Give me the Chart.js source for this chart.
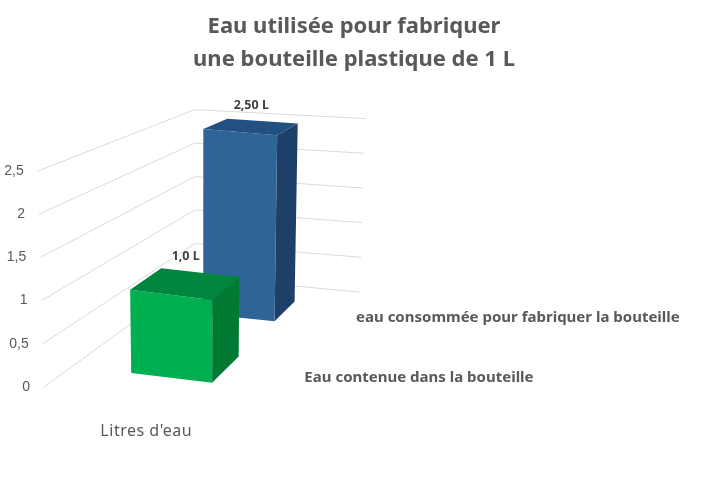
<!DOCTYPE html>
<html lang="fr">
<head>
<meta charset="utf-8">
<title>Eau utilisée</title>
<script src="https://cdn.jsdelivr.net/npm/chart.js@4"></script>
<style>
  html, body { margin: 0; padding: 0; background: #fff; }
  canvas { display: block; }
</style>
</head>
<body>
<canvas id="my-chart" width="715" height="478"></canvas>
<script>
'use strict'
///data///
const titleLines = ['Eau utilisée pour fabriquer', 'une bouteille plastique de 1 L'];
const categoryName = "Litres d'eau";
const seriesNames = ['Eau contenue dans la bouteille', 'eau consommée pour fabriquer la bouteille'];
const litres = [1.0, 2.5];
const valueLabels = ['1,0 L', '2,50 L'];
const tickLabels = ['0', '0,5', '1', '1,5', '2', '2,5'];

///colours, front / top / side face of each bar///
const frontColors = ['#00b050', '#2f6497'];
const topColors = ['#00863d', '#225080'];
const sideColors = ['#007a33', '#1e4068'];
const gridColor = '#d9d9d9';
const textColor = '#595959';

///the "3D room": floor corners on screen (left-front, right-front, right-back, left-back)///
const floorA = [44, 387], floorD = [255, 414], floorC = [360, 292], floorB = [195, 277];
const shrinkA = 1, shrinkD = 0.98, shrinkC = 0.803, shrinkB = 0.775;//height per value at each corner
const leanPerPx = 0.000185;//verticals spread out a little going up
const barLeft = 0.3, barRight = 0.7;//bar width across the floor

//floor square (u,w) to screen, plain perspective mapping from the 4 corners
function makeFloor() {
  const dx1 = floorD[0] - floorC[0], dx2 = floorB[0] - floorC[0], sx = floorA[0] - floorD[0] + floorC[0] - floorB[0];
  const dy1 = floorD[1] - floorC[1], dy2 = floorB[1] - floorC[1], sy = floorA[1] - floorD[1] + floorC[1] - floorB[1];
  const den = dx1 * dy2 - dx2 * dy1;
  const g = (sx * dy2 - dx2 * sy) / den;
  const h = (dx1 * sy - sx * dy1) / den;
  return function (u, w) {
    const z = g * u + h * w + 1;
    return [
      ((floorD[0] - floorA[0] + g * floorD[0]) * u + (floorB[0] - floorA[0] + h * floorB[0]) * w + floorA[0]) / z,
      ((floorD[1] - floorA[1] + g * floorD[1]) * u + (floorB[1] - floorA[1] + h * floorB[1]) * w + floorA[1]) / z
    ];
  };
}
const floorPoint = makeFloor();

//rise = pixels the y scale gives for a value, at the front left edge
function project(u, w, rise) {
  const p = floorPoint(u, w);
  const shrink = (1 - w) * ((1 - u) * shrinkA + u * shrinkD) + w * ((1 - u) * shrinkB + u * shrinkC);
  const h = rise * shrink;
  return [p[0] + leanPerPx * (p[0] - 200) * h, p[1] - h];
}

function face(ctx, color, pts) {
  ctx.fillStyle = color;
  ctx.beginPath();
  pts.forEach((p, i) => i ? ctx.lineTo(p[0], p[1]) : ctx.moveTo(p[0], p[1]));
  ctx.closePath();
  ctx.fill();
}

function drawGrid(chart) {
  const ctx = chart.ctx, y = chart.scales.y;
  const base = y.getPixelForValue(0);
  ctx.save();
  ctx.strokeStyle = gridColor;
  ctx.lineWidth = 1;
  ctx.font = '14px "Liberation Sans"';
  ctx.fillStyle = textColor;
  ctx.textAlign = 'right';
  ctx.textBaseline = 'middle';
  y.ticks.forEach((tick, i) => {
    const rise = base - y.getPixelForValue(tick.value);
    const a = project(0, 0, rise), b = project(0, 1, rise), c = project(1, 1, rise);
    ctx.beginPath();
    ctx.moveTo(a[0], a[1]);
    ctx.lineTo(b[0], b[1]);
    ctx.lineTo(c[0], c[1]);
    ctx.stroke();
    ctx.fillText(tickLabels[i], a[0] - 14, a[1]);
  });
  ctx.restore();
}

//one bar element from chart.js becomes a box: its x/width give the depth on the floor
function drawBar(chart, bar, i) {
  const ctx = chart.ctx, area = chart.chartArea;
  const w0 = (bar.x - bar.width / 2 - area.left) / area.width;
  const w1 = (bar.x + bar.width / 2 - area.left) / area.width;
  const rise = bar.base - bar.y;
  face(ctx, sideColors[i], [project(barRight, w0, 0), project(barRight, w1, 0), project(barRight, w1, rise), project(barRight, w0, rise)]);
  face(ctx, frontColors[i], [project(barLeft, w0, 0), project(barRight, w0, 0), project(barRight, w0, rise), project(barLeft, w0, rise)]);
  face(ctx, topColors[i], [project(barLeft, w0, rise), project(barRight, w0, rise), project(barRight, w1, rise), project(barLeft, w1, rise)]);
}

function drawLabels(chart) {
  const ctx = chart.ctx, area = chart.chartArea;
  const bars = chart.getDatasetMeta(0).data;
  ctx.save();
  ctx.textBaseline = 'middle';
  bars.forEach((bar, i) => {
    const w = (bar.x - area.left) / area.width;
    const w1 = (bar.x + bar.width / 2 - area.left) / area.width;
    const rise = bar.base - bar.y;
    //value above the box, centred on the top face, just over its back edge
    ctx.font = 'bold 12.5px "Noto Sans"';
    ctx.fillStyle = '#404040';
    ctx.textAlign = 'center';
    ctx.fillText(valueLabels[i], project(0.5, w, rise)[0], project(0.5, w1, rise)[1] - 16);
    //series name on the depth axis
    const foot = project(1, w, 0);
    ctx.font = 'bold 15px "Noto Sans"';
    ctx.fillStyle = textColor;
    ctx.textAlign = 'left';
    ctx.fillText(seriesNames[i], foot[0] + 17, foot[1] + 1);
  });
  //category name under the front edge
  const front = project(0.5, 0, 0);
  ctx.font = '16px "Noto Sans"';
  ctx.letterSpacing = '0.5px';
  ctx.fillStyle = textColor;
  ctx.textAlign = 'center';
  ctx.fillText(categoryName, front[0], front[1] + 31);
  ctx.restore();
}

const room3d = {
  id: 'room3d',
  beforeDatasetsDraw(chart) {
    drawGrid(chart);
  },
  beforeDatasetDraw(chart) {
    const bars = chart.getDatasetMeta(0).data;
    for (let i = bars.length - 1; i >= 0; i--) {//back bar first
      drawBar(chart, bars[i], i);
    }
    return false;//the flat bars are not drawn
  },
  afterDatasetsDraw(chart) {
    drawLabels(chart);
  }
};

let ctx = document.getElementById('my-chart').getContext('2d');

new Chart(ctx, {
  type: 'bar',
  data: {
    labels: seriesNames,
    datasets: [{
      label: categoryName,
      data: litres,
      backgroundColor: frontColors,
      barPercentage: 0.39,
      categoryPercentage: 1
    }]
  },
  options: {
    responsive: false,
    animation: false,
    layout: { padding: { right: 7, bottom: 91 } },
    plugins: {
      legend: { display: false },
      tooltip: { enabled: false },
      title: {
        display: true,
        text: titleLines,
        color: textColor,
        font: { family: '"Noto Sans"', size: 22, weight: 'bold', lineHeight: 1.5 },
        padding: { top: 10, bottom: 95 }
      }
    },
    scales: {
      x: { display: false },
      y: {
        min: 0,
        max: 2.5,
        ticks: { stepSize: 0.5, display: false },
        grid: { display: false },
        border: { display: false }
      }
    }
  },
  plugins: [room3d]
});
</script>
</body>
</html>
